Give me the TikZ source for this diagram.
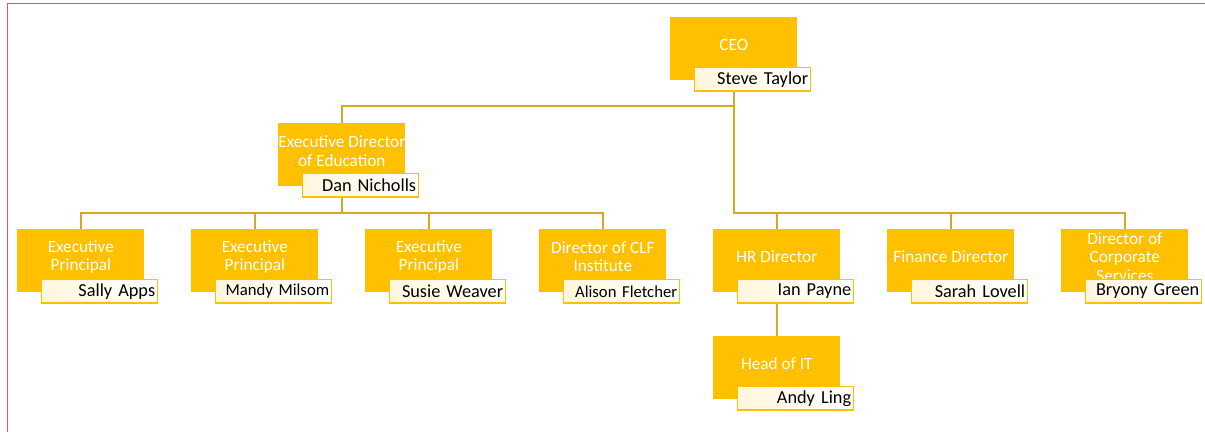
\documentclass[tikz,border=0pt]{standalone}
\usepackage{fontspec}
\setmainfont{Carlito}
\usetikzlibrary{calc}

\definecolor{amber}{HTML}{FFC000}
\definecolor{linegold}{RGB}{213,168,42}
\definecolor{cream}{HTML}{FFF6DC}
\definecolor{frame}{RGB}{215,90,90}

\begin{document}
\begin{tikzpicture}[x=0.02cm,y=-0.02cm]
\useasboundingbox (0,0) rectangle (1205,432);

% thin frame along the top and left edge
\draw[frame, line width=0.4pt] (7,432) -- (7,3) -- (1205,3);

% Styles for the post boxes, their titles and the name tags
\tikzstyle{postbox}=[fill=amber, draw=none, anchor=north west, minimum width=2.54cm, minimum height=1.26cm, inner sep=0pt]
\tikzstyle{titletext}=[font=\fontsize{9.8}{10.4}\selectfont, text=white, align=center, inner sep=0pt]
\tikzstyle{namebox}=[draw=amber, line width=0.8pt, left color=cream, right color=white, anchor=north west, minimum height=0.47cm, text width=2.22cm, inner xsep=0.05cm, inner ysep=0pt, align=right, font=\fontsize{10.4}{11}\selectfont, text=black]
\tikzstyle{small}=[font=\fontsize{9.5}{10}\selectfont]
\tikzstyle{conn}=[draw=linegold, line width=0.04cm]

% One post: an amber box with its title, and a name tag over its lower edge
\newcommand{\drawpost}[6]{
% #1 = node name, #2, #3 = top left corner of the box
% #4 = job title, #5 = person, #6 = extra style for the name
\node[postbox] (#1) at (#2,#3) {};
\node[titletext] (#1title) at ($(#1.north)+(0,28)$) {#4};
\node[namebox, #6] (#1name) at ($(#1.north west)+(24,50)$) {#5};
}

% The posts
\drawpost{ceo}{670}{17}{CEO}{Steve Taylor}{}
\drawpost{edu}{278}{123}{Executive Director\\of Education}{Dan Nicholls}{}
\drawpost{epa}{17}{229}{Executive\\Principal}{Sally Apps}{}
\drawpost{epb}{191}{229}{Executive\\Principal}{Mandy Milsom}{small}
\drawpost{epc}{365}{229}{Executive\\Principal}{Susie Weaver}{}
\drawpost{clf}{539}{229}{Director of CLF\\Institute}{Alison Fletcher}{small}
\drawpost{hr}{713}{229}{HR Director}{Ian Payne}{}
\drawpost{fin}{887}{229}{Finance Director}{Sarah Lovell}{}
\drawpost{corp}{1061}{229}{Director of\\Corporate\\Services}{Bryony Green}{}
\drawpost{it}{713}{336}{Head of IT}{Andy Ling}{}

% Connectors
\coordinate (busR) at (ceo.south |- 0,213);
\coordinate (busL) at (edu.south |- 0,213);

\draw[conn] (ceo.center |- ceoname.south) -- ++(0,14) -| (edu.north);
\draw[conn] (ceo.center |- ceoname.south) -- (busR) -| (corp.north);
\draw[conn] (busR) -| (hr.north);
\draw[conn] (busR) -| (fin.north);

\draw[conn] (edu.center |- eduname.south) -- (busL);
\draw[conn] (busL) -| (epa.north);
\draw[conn] (busL) -| (epb.north);
\draw[conn] (busL) -| (epc.north);
\draw[conn] (busL) -| (clf.north);

\draw[conn] (hr.center |- hrname.south) -- (it.north);

\end{tikzpicture}
\end{document}
